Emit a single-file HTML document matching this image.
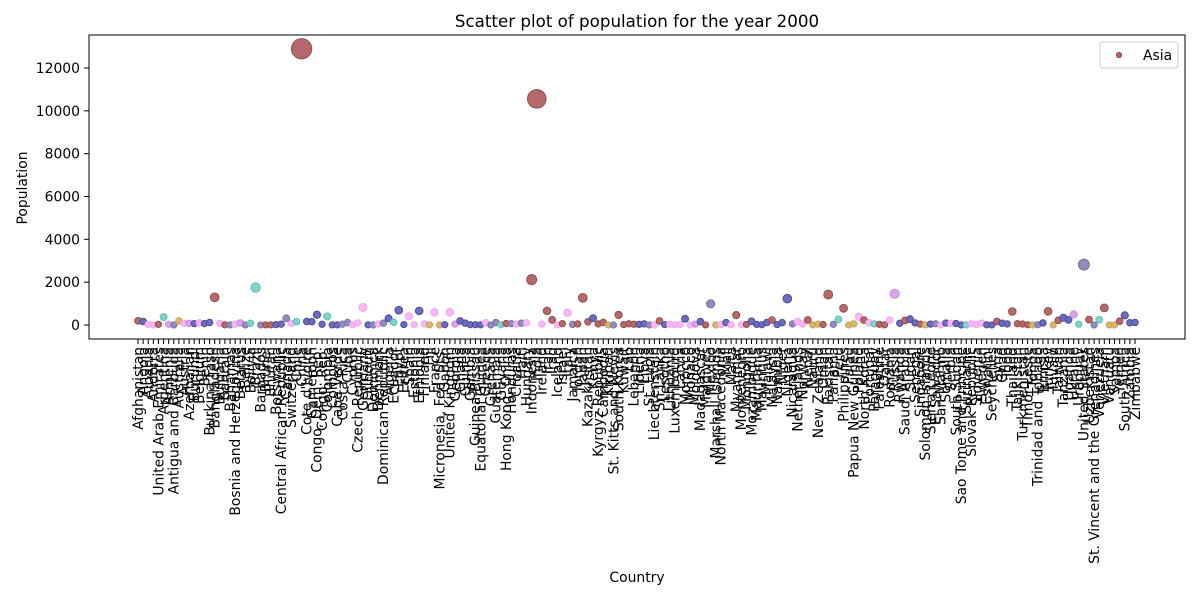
<!DOCTYPE html>
<html><head><meta charset="utf-8"><style>
html,body{margin:0;padding:0;background:#fff;}
svg{display:block;font-family:"DejaVu Sans","Liberation Sans",sans-serif;}
</style></head><body>
<svg id="chart" width="1200" height="600" viewBox="0 0 1200 600">
<rect x="0" y="0" width="1200" height="600" fill="#fff"/>
<text x="637" y="27" text-anchor="middle" font-size="16.7" fill="#000">Scatter plot of population for the year 2000</text>
<g id="marks"></g>
<g id="xticks"></g>
<g id="yticks"></g>
<rect x="89" y="35" width="1096" height="304" fill="none" stroke="#000" stroke-width="1"/>
<text x="637" y="582" text-anchor="middle" font-size="13.9">Country</text>
<text transform="translate(27,188) rotate(-90)" text-anchor="middle" font-size="13.9">Population</text>
<g>
<rect x="1100" y="42" width="78" height="26" rx="3" fill="#fff" stroke="#ccc"/>
<circle cx="1119" cy="55" r="2.6" fill="#b46a6a" stroke="#9a4a4a"/>
<text x="1143" y="60" font-size="13.9">Asia</text>
</g>
</svg>
<script>
const countries=["Afghanistan","Angola","Albania","Andorra","United Arab Emirates","Argentina","Armenia","Antigua and Barbuda","Australia","Austria","Azerbaijan","Burundi","Belgium","Benin","Burkina Faso","Bangladesh","Bulgaria","Bahrain","Bahamas","Bosnia and Herzegovina","Belarus","Belize","Bolivia","Brazil","Barbados","Brunei","Bhutan","Botswana","Central African Republic","Canada","Switzerland","Chile","China","Cote d'Ivoire","Cameroon","Congo, Dem. Rep.","Congo, Rep.","Colombia","Comoros","Cape Verde","Costa Rica","Cuba","Cyprus","Czech Republic","Germany","Djibouti","Dominica","Denmark","Dominican Republic","Algeria","Ecuador","Egypt","Eritrea","Spain","Estonia","Ethiopia","Finland","Fiji","France","Micronesia, Fed. Sts.","Gabon","United Kingdom","Georgia","Ghana","Guinea","Gambia","Guinea-Bissau","Equatorial Guinea","Greece","Grenada","Guatemala","Guyana","Hong Kong, China","Honduras","Croatia","Haiti","Hungary","Indonesia","India","Ireland","Iran","Iraq","Iceland","Israel","Italy","Jamaica","Jordan","Japan","Kazakhstan","Kenya","Kyrgyz Republic","Cambodia","Kiribati","St. Kitts and Nevis","South Korea","Kuwait","Lao","Lebanon","Liberia","Libya","St. Lucia","Liechtenstein","Sri Lanka","Lesotho","Lithuania","Luxembourg","Latvia","Morocco","Monaco","Moldova","Madagascar","Maldives","Mexico","Marshall Islands","North Macedonia","Mali","Malta","Myanmar","Montenegro","Mongolia","Mozambique","Mauritania","Mauritius","Malawi","Malaysia","Namibia","Niger","Nigeria","Nicaragua","Netherlands","Norway","Nepal","Nauru","New Zealand","Oman","Pakistan","Panama","Peru","Philippines","Palau","Papua New Guinea","Poland","North Korea","Portugal","Paraguay","Palestine","Qatar","Romania","Russia","Rwanda","Saudi Arabia","Sudan","Senegal","Singapore","Solomon Islands","Sierra Leone","El Salvador","San Marino","Somalia","Serbia","South Sudan","Sao Tome and Principe","Suriname","Slovak Republic","Slovenia","Sweden","Eswatini","Seychelles","Syria","Chad","Togo","Thailand","Tajikistan","Turkmenistan","Timor-Leste","Tonga","Trinidad and Tobago","Tunisia","Turkey","Tuvalu","Taiwan","Tanzania","Uganda","Ukraine","Uruguay","United States","Uzbekistan","St. Vincent and the Grenadines","Venezuela","Vietnam","Vanuatu","Samoa","Yemen","South Africa","Zambia","Zimbabwe"];
const population=[195,164,31,1,30,370,31,1,190,80,81,64,102,67,118,1290,81,7,3,37,100,2,84,1750,3,3,6,17,37,310,72,154,12900,165,158,480,33,400,5,4,39,111,9,103,820,7,1,53,87,310,125,690,20,405,14,660,52,8,590,1,13,590,42,190,88,13,12,6,110,1,117,7,67,64,45,86,102,2120,10560,38,660,240,3,61,570,26,51,1270,150,315,49,122,1,0.5,470,20,54,33,28,53,2,0.3,190,19,35,4,24,290,0.3,36,160,3,990,1,20,110,4,460,6,24,180,27,12,115,230,19,113,1230,51,160,45,235,0.1,39,23,1420,30,260,780,0.2,56,385,230,103,53,31,6,225,1460,80,210,270,97,40,4,41,59,0.3,89,76,67,1,5,54,20,89,10,1,165,84,49,630,62,45,9,1,13,96,640,0.1,222,340,240,490,33,2820,250,1,245,800,2,2,180,450,105,120];
const regions=["as","af","eu","eu","as","sa","ev","na","oc","eu","ev","af","eu","af","af","as","eu","as","na","eu","ev","na","sa","sa","na","as","as","af","af","na","eu","sa","as","af","af","af","af","sa","af","af","na","na","eu","eu","eu","af","na","eu","na","af","sa","af","af","eu","eu","af","eu","oc","eu","oc","af","eu","ev","af","af","af","af","af","eu","na","na","sa","as","na","eu","na","eu","as","as","eu","as","as","eu","as","eu","na","as","as","as","af","as","as","oc","na","as","as","as","as","af","af","na","eu","as","af","eu","eu","eu","af","eu","ev","af","as","na","oc","eu","af","eu","as","eu","as","af","af","af","af","as","af","af","af","na","eu","eu","as","oc","oc","as","as","na","sa","as","oc","oc","eu","as","eu","sa","as","as","eu","ev","af","as","af","af","as","oc","af","na","eu","af","eu","af","af","sa","eu","eu","eu","af","af","as","af","af","as","as","as","as","oc","na","af","as","oc","as","af","af","ev","sa","na","as","na","sa","as","oc","oc","as","af","af","af"];
const yTicks=[0,2000,4000,6000,8000,10000,12000];
const colors={as:["#b46a6a","#9a4a4a"],af:["#6c6cba","#4a4aa2"],eu:["#f6b8f6","#f0a4f0"],ev:["#dca4ec","#cc88dc"],na:["#918bbd","#7a72aa"],sa:["#82d2ca","#5fc2b9"],oc:["#d8b66c","#c9a252"]};
const NS="http://www.w3.org/2000/svg";
const xLeft=138,xRight=1135,y0=325,y12=68;
function xScale(i){return xLeft+(xRight-xLeft)*i/(countries.length-1);}
function yScale(v){return y0+(y12-y0)*v/12000;}
function rScale(v){return Math.sqrt(20+0.015*v)*100/72/2;}
const marks=document.getElementById('marks');
countries.forEach((c,i)=>{
  const v=population[i],col=colors[regions[i]]||colors.as;
  const ci=document.createElementNS(NS,'circle');
  ci.setAttribute('cx',xScale(i));ci.setAttribute('cy',yScale(v));ci.setAttribute('r',rScale(v));
  ci.setAttribute('fill',col[0]);ci.setAttribute('stroke',col[1]);ci.setAttribute('stroke-width','1');
  
  
  marks.appendChild(ci);
});
const xt=document.getElementById('xticks');
countries.forEach((c,i)=>{
  const x=xScale(i);
  const l=document.createElementNS(NS,'line');
  l.setAttribute('x1',x);l.setAttribute('x2',x);l.setAttribute('y1',339);l.setAttribute('y2',344);l.setAttribute('stroke','#000');
  
  
  xt.appendChild(l);
  const t=document.createElementNS(NS,'text');
  t.setAttribute('transform','translate('+(x+4.8)+',347) rotate(-90)');
  t.setAttribute('text-anchor','end');t.setAttribute('font-size','13.9');
  t.textContent=c;
  
  
  xt.appendChild(t);
});
const yt=document.getElementById('yticks');
yTicks.forEach(v=>{
  const y=yScale(v);
  const l=document.createElementNS(NS,'line');
  l.setAttribute('x1',84);l.setAttribute('x2',89);l.setAttribute('y1',y);l.setAttribute('y2',y);l.setAttribute('stroke','#000');
  
  
  yt.appendChild(l);
  const t=document.createElementNS(NS,'text');
  t.setAttribute('x',80);t.setAttribute('y',y+5);t.setAttribute('text-anchor','end');t.setAttribute('font-size','13.9');
  t.textContent=v;
  
  
  yt.appendChild(t);
});
</script>
</body></html>
